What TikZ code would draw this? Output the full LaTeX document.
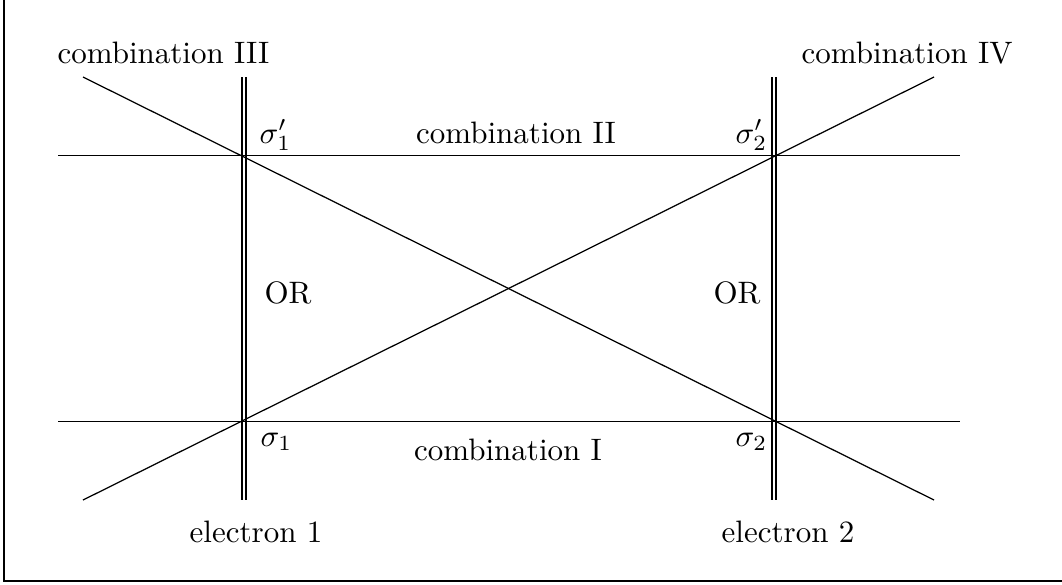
\documentclass[tikz,border=0pt]{standalone}
\begin{document}
\begin{tikzpicture}[x=0.3226pt, y=-0.3226pt,
  ln/.style={line width=0.4pt},
  lbl/.style={inner sep=0pt, anchor=base},
  lblw/.style={inner sep=0pt, anchor=base west}]
\useasboundingbox (0,0) rectangle (1062,584);
% partial frame
\coordinate (ftop) at (4,0);
\coordinate (fcorner) at (4,581);
\coordinate (fright) at (1062,581);
\draw[ln] (ftop) -- (fcorner) -- (fright);
% electron world lines (double)
\coordinate (e1a) at (242,77); \coordinate (e1b) at (242,500);
\coordinate (e1c) at (246,77); \coordinate (e1d) at (246,500);
\coordinate (e2a) at (772,77); \coordinate (e2b) at (772,500);
\coordinate (e2c) at (776,77); \coordinate (e2d) at (776,500);
\draw[ln] (e1a) -- (e1b); \draw[ln] (e1c) -- (e1d);
\draw[ln] (e2a) -- (e2b); \draw[ln] (e2c) -- (e2d);
% horizontal combinations
\coordinate (h2a) at (58,155.5); \coordinate (h2b) at (960,155.5);
\coordinate (h1a) at (58,421.5); \coordinate (h1b) at (960,421.5);
\draw[ln] (h2a) -- (h2b);
\draw[ln] (h1a) -- (h1b);
% diagonals
\coordinate (d3a) at (83,77); \coordinate (d3b) at (934,500);
\coordinate (d4a) at (83,500); \coordinate (d4b) at (934,77);
\draw[ln] (d3a) -- (d3b);
\draw[ln] (d4a) -- (d4b);
% labels
\node[lbl] (cIII) at (163.5,63) {combination III};
\node[lbl] (cIV) at (907,63) {combination IV};
\node[lbl] (cII) at (516,143) {combination II};
\node[lbl] (cI) at (508,460) {combination I};
\node[lblw] (s1p) at (259,143) {$\sigma_1'$};
\node[lblw] (s2p) at (735,143) {$\sigma_2'$};
\node[lblw] (s1) at (260,446) {$\sigma_1$};
\node[lblw] (s2) at (735,446) {$\sigma_2$};
\node[lbl] (or1) at (288,303) {OR};
\node[lbl] (or2) at (737,303) {OR};
\node[lbl] (el1) at (256,542) {electron 1};
\node[lbl] (el2) at (788,542) {electron 2};
\end{tikzpicture}
\end{document}
